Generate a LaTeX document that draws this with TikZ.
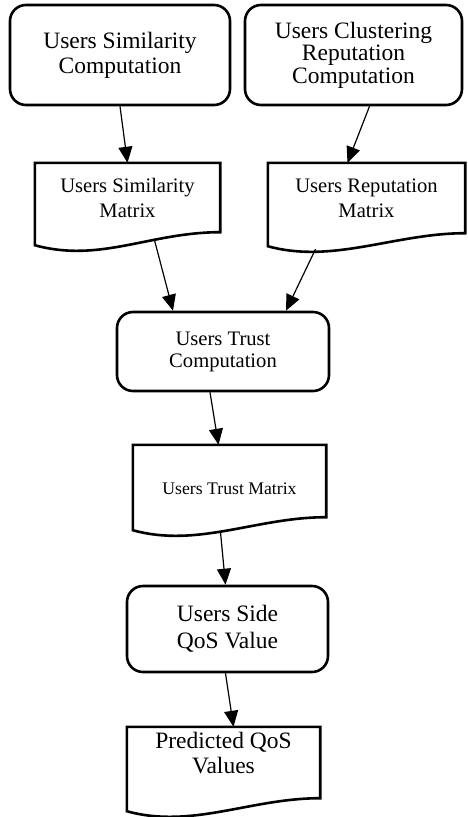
\documentclass[tikz,border=0pt]{standalone}
\usepackage{fontspec}
\setmainfont{Liberation Serif}
\usetikzlibrary{arrows.meta}
\newcommand{\docoutline}[1]{%
  \draw[docline] (#1.south east) .. controls +(-70,0) and +(65,18) .. ([yshift=-13pt]#1.south west)
    -- (#1.north west) -- (#1.north east) -- cycle;}

\begin{document}
\begin{tikzpicture}[x=1pt,y=-1pt]
    \tikzstyle{process}=[draw=black, line width=2.6pt, rounded corners=16pt, align=center, inner sep=0pt]
    \tikzstyle{document}=[draw=none, align=center, inner sep=0pt]
    \tikzstyle{docline}=[draw=black, line width=2.6pt, line join=miter]
    \tikzstyle{arr}=[draw=black, line width=1.2pt, -{Triangle[length=16pt,width=14pt]}]
    \tikzstyle{big}=[font=\fontsize{23.5}{25}\selectfont]
    \tikzstyle{mid}=[font=\fontsize{20.6}{25}\selectfont]

    \useasboundingbox (0,0) rectangle (467,817);

    % Draw the computation nodes
    \node[process, big, minimum width=220pt, minimum height=100pt] (simcomp) at (120,55) {Users Similarity\\Computation};
    \node[process, font=\fontsize{23.5}{22.5}\selectfont, minimum width=217pt, minimum height=100pt] (repcomp) at (353.5,55) {Users Clustering\\Reputation\\Computation};
    \node[process, font=\fontsize{20.6}{22}\selectfont, minimum width=212pt, minimum height=79pt] (trustcomp) at (223,351.5) {Users Trust\\Computation};
    \node[process, font=\fontsize{23.5}{27}\selectfont, minimum width=201pt, minimum height=86pt] (sideqos) at (227.5,629) {Users Side\\QoS Value};

    % Draw the matrix documents
    \node[document, mid, minimum width=185pt, minimum height=69pt] (simmat) at (127.5,197.5) {Users Similarity\\Matrix};
    \node[document, mid, minimum width=197pt, minimum height=70pt] (repmat) at (366.5,198) {Users Reputation\\Matrix};
    \node[document, font=\fontsize{17.7}{20}\selectfont, text height=28pt, minimum width=193pt, minimum height=72pt] (trustmat) at (229.5,481) {Users Trust Matrix};
    \node[document, big, text depth=20pt, minimum width=193pt, minimum height=71pt] (predqos) at (223.5,762.5) {Predicted QoS\\Values};

    \docoutline{simmat}
    \docoutline{repmat}
    \docoutline{trustmat}
    \docoutline{predqos}

    % Draw the arrows
    \draw[arr] (simcomp.south) -- (simmat.north);
    \draw[arr] ([xshift=16pt]repcomp.south) -- ([xshift=-19pt]repmat.north);
    \draw[arr] ([xshift=27pt,yshift=-8pt]simmat.south) -- ([xshift=-50pt]trustcomp.north);
    \draw[arr] ([xshift=-51pt,yshift=-16pt]repmat.south) -- ([xshift=63pt]trustcomp.north);
    \draw[arr] ([xshift=-13pt]trustcomp.south) -- ([xshift=-11pt]trustmat.north);
    \draw[arr] ([xshift=-9pt,yshift=-15pt]trustmat.south) -- ([xshift=-2pt]sideqos.north);
    \draw[arr] ([xshift=-2pt]sideqos.south) -- ([xshift=10pt]predqos.north);
\end{tikzpicture}
\end{document}
